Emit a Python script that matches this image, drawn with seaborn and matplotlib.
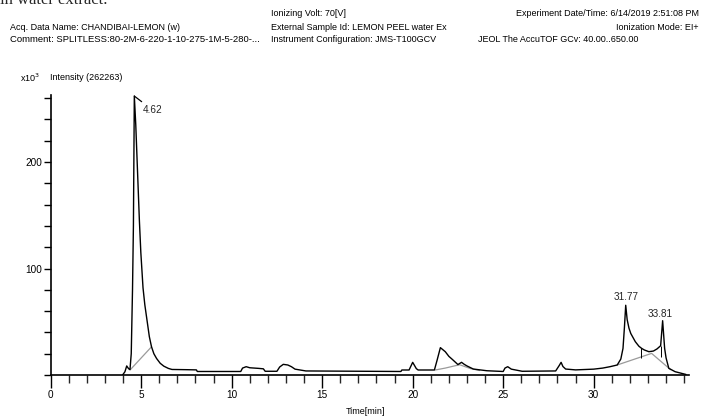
import matplotlib
matplotlib.use("Agg")
import matplotlib.pyplot as plt
from matplotlib.ticker import MultipleLocator, FixedLocator
import seaborn as sns
import pandas as pd

# ---- data (time in min, intensity in x10^3) ----
time = [3.97, 4.1, 4.2, 4.3, 4.38, 4.45, 4.52, 4.57, 4.62, 4.7, 4.8, 4.9, 4.98,
        5.1, 5.2, 5.3, 5.45, 5.57, 5.7, 5.85, 6.05, 6.25, 6.5, 6.7, 7.5, 8.05,
        8.1, 10.5, 10.6, 10.8, 11.0, 11.5, 11.75, 11.85, 12.5, 12.65, 12.85,
        13.1, 13.3, 13.5, 14.1, 19.35, 19.4, 19.8, 20.0, 20.2, 20.3, 21.2,
        21.35, 21.53, 21.8, 22.0, 22.2, 22.5, 22.7, 22.85, 23.0, 23.35, 24.1,
        25.0, 25.1, 25.25, 25.45, 26.05, 27.9, 28.1, 28.2, 28.3, 28.45, 29.0,
        30.0, 30.5, 30.9, 31.3, 31.5, 31.62, 31.7, 31.77, 31.85, 31.95, 32.05,
        32.3, 32.5, 32.65, 32.8, 33.05, 33.3, 33.5, 33.7, 33.81, 33.92, 34.0,
        34.15, 34.5, 35.1]
intensity = [0, 3, 8.5, 6, 5, 20, 80, 140, 262, 235, 190, 145, 115,
             82, 66, 54, 36, 26.5, 20, 15.5, 11, 8.3, 6.2, 5.2, 5, 4.8,
             3.3, 3.3, 6.5, 7.8, 6.8, 6.2, 5.8, 3.5, 3.5, 7.5, 10,
             9.4, 7.8, 5.5, 3.8, 3.3, 4.7, 4.7, 11.9, 6, 4.7, 4.7,
             14, 25.7, 21.9, 17.5, 14.5, 9.8, 11.9, 10, 8.5, 5.6, 4.0,
             3.3, 6.5, 7.8, 5.5, 3.5, 3.8, 9, 11.9, 8, 5.6, 4.8,
             5.5, 6.5, 7.8, 9.4, 15, 25, 45, 65.5, 52, 44, 39,
             31.3, 27, 25, 23.5, 21.9, 22.5, 24.5, 27.5, 51, 25, 16,
             6.3, 3.1, 0.5]

# integration baselines (grey)
base1_t = [4.4, 5.57]
base1_i = [5, 26.5]
base2_t = [21.25, 21.8, 22.3, 22.6, 23.2, 23.7]
base2_i = [4.7, 6.5, 8.5, 9.6, 6.0, 4.2]
base3_t = [31.3, 33.2, 34.25]
base3_i = [9.4, 20.3, 5.0]
# peak separation drop lines
drop_t = [32.6, 33.7]
drop_top = [25.5, 27.5]
drop_bot = [15.6, 16.6]

peak_labels = ["4.62", "31.77", "33.81"]
peak_t = [4.62, 31.77, 33.81]
peak_i = [262, 65.5, 51]

x_ticklabels = ["0", "5", "10", "15", "20", "25", "30"]
y_ticklabels = ["100", "200"]

# ---- figure ----
sns.set_style("ticks")
FONT = ["Liberation Sans", "DejaVu Sans"]
plt.rcParams["font.family"] = FONT

fig = plt.figure(figsize=(7.02, 4.19), dpi=100)
ax = fig.add_axes([50.7 / 702, 44 / 419, 638 / 702, 280 / 419])

df = pd.DataFrame({"t": time, "i": intensity})
for bt, bi in [(base1_t, base1_i), (base2_t, base2_i), (base3_t, base3_i)]:
    sns.lineplot(x=bt, y=bi, ax=ax, color="#9a9a9a", lw=0.9, sort=False,
                 estimator=None)
sns.lineplot(data=df, x="t", y="i", ax=ax, color="black", lw=1.0, sort=False,
             estimator=None)
ax.vlines(drop_t, drop_bot, drop_top, color="black", lw=0.7)

ax.set_xlim(0, 35.25)
ax.set_ylim(0, 263)
sns.despine(ax=ax)
for s in ("left", "bottom"):
    ax.spines[s].set_linewidth(1.2)
    ax.spines[s].set_color("black")

ax.xaxis.set_major_locator(FixedLocator([0, 5, 10, 15, 20, 25, 30]))
ax.set_xticklabels(x_ticklabels)
ax.xaxis.set_minor_locator(MultipleLocator(1))
ax.yaxis.set_major_locator(FixedLocator([100, 200]))
ax.set_yticklabels(y_ticklabels)
ax.yaxis.set_minor_locator(MultipleLocator(20))
ax.tick_params(axis="x", which="major", length=9, width=1, direction="out",
               labelsize=7.2, pad=2, colors="black")
ax.tick_params(axis="x", which="minor", length=6, width=1, direction="out")
ax.tick_params(axis="y", which="both", length=5, width=1, direction="out",
               labelsize=7.2, pad=1, colors="black")
ax.set_xlabel("")
ax.set_ylabel("")

# peak labels
ax.annotate(peak_labels[0], xy=(peak_t[0], peak_i[0]), xytext=(6, -10),
            textcoords="offset points", fontsize=7.2, ha="left", va="center",
            arrowprops=dict(arrowstyle="-", color="black", lw=0.9,
                            shrinkA=0, shrinkB=0))
ax.annotate(peak_labels[1], xy=(peak_t[1], peak_i[1]), xytext=(0, 2),
            textcoords="offset points", fontsize=7.2, ha="center", va="bottom")
ax.annotate(peak_labels[2], xy=(peak_t[2], peak_i[2]), xytext=(-2, 1),
            textcoords="offset points", fontsize=7.2, ha="center", va="bottom")

# header texts
def ftxt(x, y, s, ha="left", size=6.5, **kw):
    fig.text(x / 702, 1 - y / 419, s, ha=ha, va="center", fontsize=size,
             color="black", **kw)

fig.text(0.0, 1 - 0 / 419, "in water extract.", ha="left", va="center",
         fontsize=12, family=["Liberation Serif", "DejaVu Serif"])
ftxt(271, 13, "Ionizing Volt: 70[V]")
ftxt(10, 27, "Acq. Data Name: CHANDIBAI-LEMON (w)")
ftxt(271, 27, "External Sample Id: LEMON PEEL water Ex")
ftxt(10, 40, "Comment: SPLITLESS:80-2M-6-220-1-10-275-1M-5-280-...", size=6.8)
ftxt(271, 40, "Instrument Configuration: JMS-T100GCV")
ftxt(699, 13, "Experiment Date/Time: 6/14/2019 2:51:08 PM", ha="right")
ftxt(699, 27, "Ionization Mode: EI+", ha="right")
ftxt(478, 40, "JEOL The AccuTOF GCv: 40.00..650.00")
ftxt(20, 78, r"x10$^3$")
ftxt(50, 78, "Intensity (262263)")
ftxt(365, 411, "Time[min]", ha="center")

fig.savefig("out.png", dpi=100)
